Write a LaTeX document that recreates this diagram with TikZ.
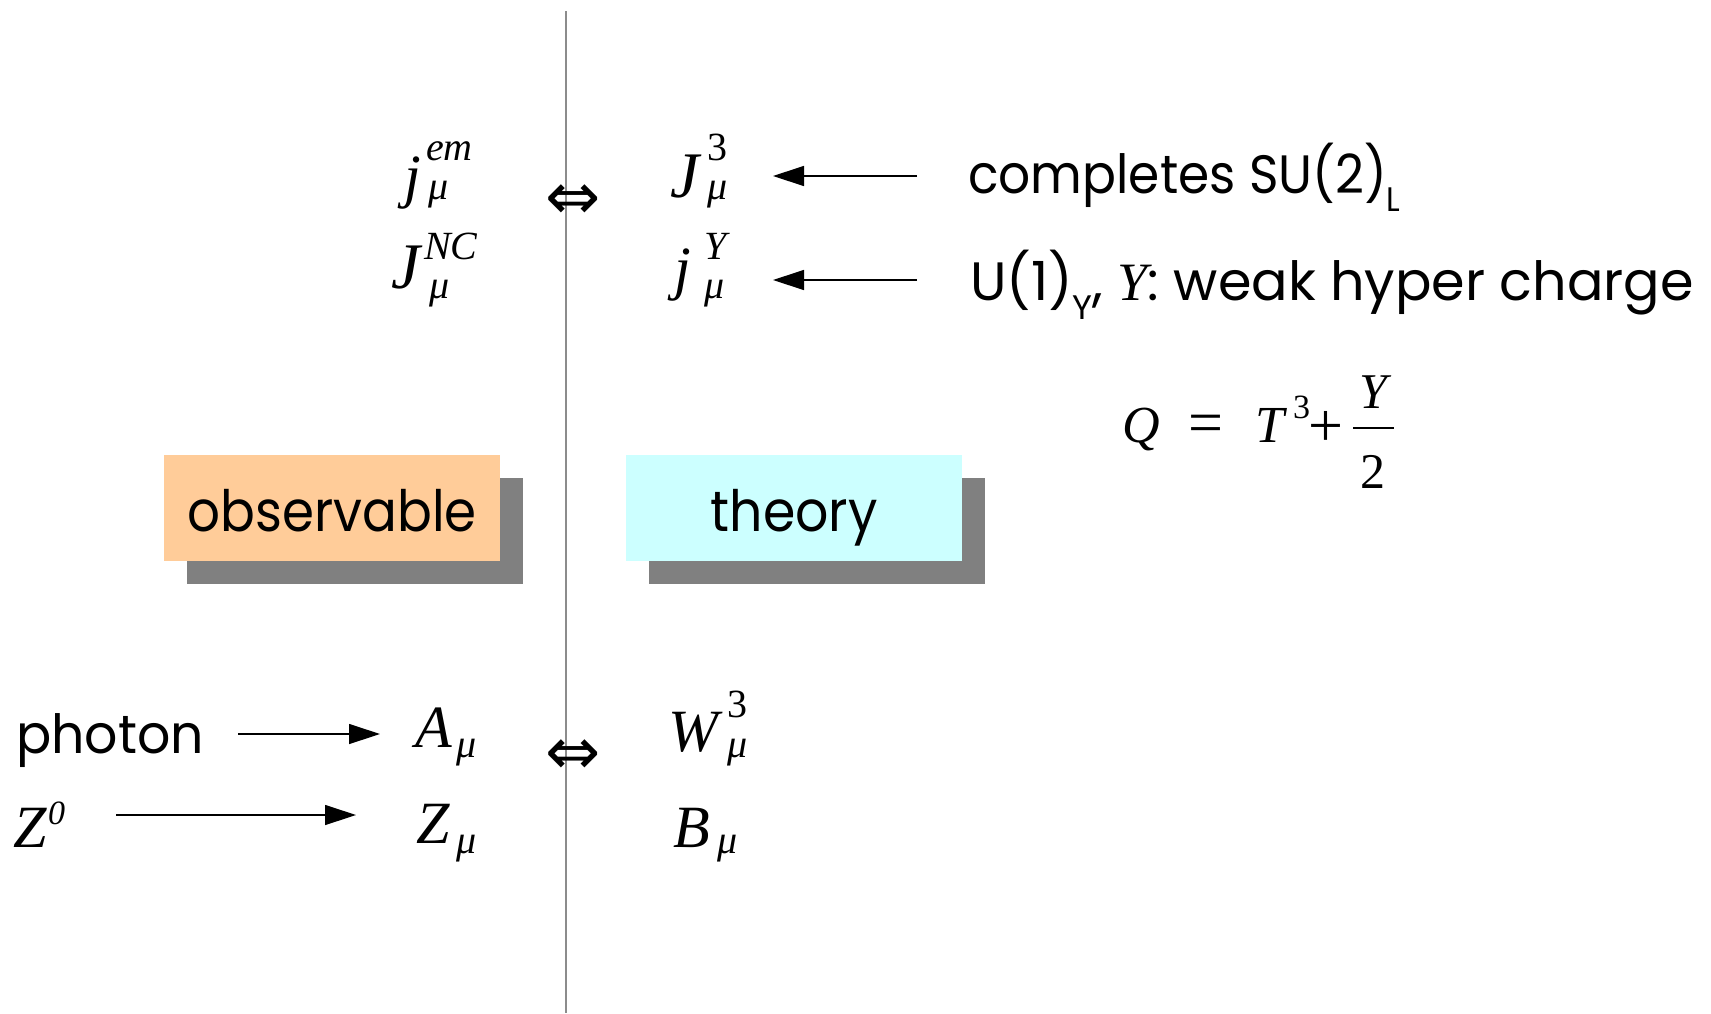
\documentclass[tikz,border=0pt]{standalone}
\usepackage{fontspec}
\setmainfont{Poppins}
\newfontfamily\tms{Liberation Serif}
\newfontfamily\dvs{DejaVu Sans}
\usetikzlibrary{arrows.meta}
\newcommand\fsz[1]{\fontsize{#1}{#1}\selectfont}
\definecolor{obsc}{HTML}{FFCC99}
\definecolor{thc}{HTML}{CCFFFF}
\definecolor{shc}{HTML}{808080}
\definecolor{vlc}{HTML}{8C8C8C}
\begin{document}
\begin{tikzpicture}[x=1pt,y=-1pt,
  txt/.style={inner sep=0pt, anchor=base west},
  big/.style={txt, font=\tms\itshape\fsz{60}},
  bigJ/.style={txt, font=\tms\itshape\fsz{65}},
  sml/.style={txt, font=\tms\itshape\fsz{40}},
  smlup/.style={txt, font=\tms\fsz{40}},
  eqi/.style={txt, font=\tms\itshape\fsz{52}},
  opr/.style={inner sep=0pt, anchor=center, font=\tms\fsz{62}},
  lab/.style={txt, font=\fsz{54}},
  dbl/.style={inner sep=0pt, anchor=center, font=\dvs\fsz{66}},
  box/.style={inner sep=0pt, anchor=north west, minimum width=336pt, minimum height=106pt, text height=64pt, text depth=17pt, font=\fsz{57}},
  arr/.style={line width=1.3pt, -{Triangle[length=31pt,width=20pt]}}]
\useasboundingbox (0,0) rectangle (1711,1013);
\draw[vlc, line width=1.6pt] (566,11) -- (566,1013);
% boxes
\fill[shc] (187,478) rectangle (523,584);
\node[box, fill=obsc] (obs) at (164,455) {\scalebox{0.904}[1]{observable}};
\fill[shc] (649,478) rectangle (985,584);
\node[box, fill=thc] (thy) at (626,455) {\scalebox{0.915}[1]{theory}};
% top left
\node[big] (j1) at (404,196) {j};
\node[sml] (j1s) at (426,160) {em};
\node[sml] (j1u) at (428,199) {μ};
\node[bigJ] (J2) at (391,288) {J};
\node[sml] (J2s) at (424,259) {NC};
\node[sml] (J2u) at (429,298) {μ};
\node[dbl] (eq1) at (573,202) {⇔};
% top right
\node[bigJ] (J3) at (670,197) {J};
\node[smlup] (J3s) at (707,160) {3};
\node[sml] (J3u) at (707,199) {μ};
\node[big] (jY) at (674,288) {j};
\node[sml] (jYs) at (704,259) {Y};
\node[sml] (jYu) at (704,298) {μ};
% labels
\node[lab] (su2) at (968,193) {\scalebox{0.93}[1]{completes SU(2)\raisebox{-18pt}{\fsz{34}L}}};
\node[lab] (u1) at (970,300) {U(1)\raisebox{-19pt}{\fsz{34}Y}, {\tms\itshape Y}: weak hyper charge};
\coordinate (a1s) at (917,176);
\coordinate (a1e) at (773,176);
\coordinate (a2s) at (917,280);
\coordinate (a2e) at (773,280);
\draw[arr] (a1s) -- (a1e);
\draw[arr] (a2s) -- (a2e);
% equation
\node[eqi] (Q) at (1122,442) {Q};
\node[opr] (eqs) at (1206,429) {=};
\node[eqi] (T) at (1255,442) {T};
\node[smlup, font=\tms\fsz{34}] (T3) at (1293,418) {3};
\node[opr] (pl) at (1326,429) {+};
\node[inner sep=0pt, anchor=base, font=\tms\itshape\fsz{50}] (fY) at (1373,408) {Y};
\node[inner sep=0pt, anchor=base, font=\tms\fsz{50}] (f2) at (1373,488) {2};
\draw[line width=2.4pt] (1353,428) -- (1394,428);
% bottom
\node[lab] (ph) at (16,753) {\scalebox{0.966}[1]{photon}};
\node[big] (A) at (415,747) {A};
\node[sml] (Au) at (456,757) {μ};
\coordinate (b1s) at (238,734);
\coordinate (b1e) at (380,734);
\draw[arr] (b1s) -- (b1e);
\node[big] (Z0) at (13,847) {Z};
\node[sml, font=\tms\itshape\fsz{34}] (Z0s) at (48,824) {0};
\node[big] (Z) at (416,843) {Z};
\node[sml] (Zu) at (456,853) {μ};
\coordinate (b2s) at (116,815);
\coordinate (b2e) at (356,815);
\draw[arr] (b2s) -- (b2e);
\node[dbl] (eq2) at (573,757) {⇔};
\node[big] (W) at (668,751) {W};
\node[smlup] (Ws) at (727,717) {3};
\node[sml] (Wu) at (727,757) {μ};
\node[big] (B) at (673,847) {B};
\node[sml] (Bu) at (717,853) {μ};
\end{tikzpicture}
\end{document}
